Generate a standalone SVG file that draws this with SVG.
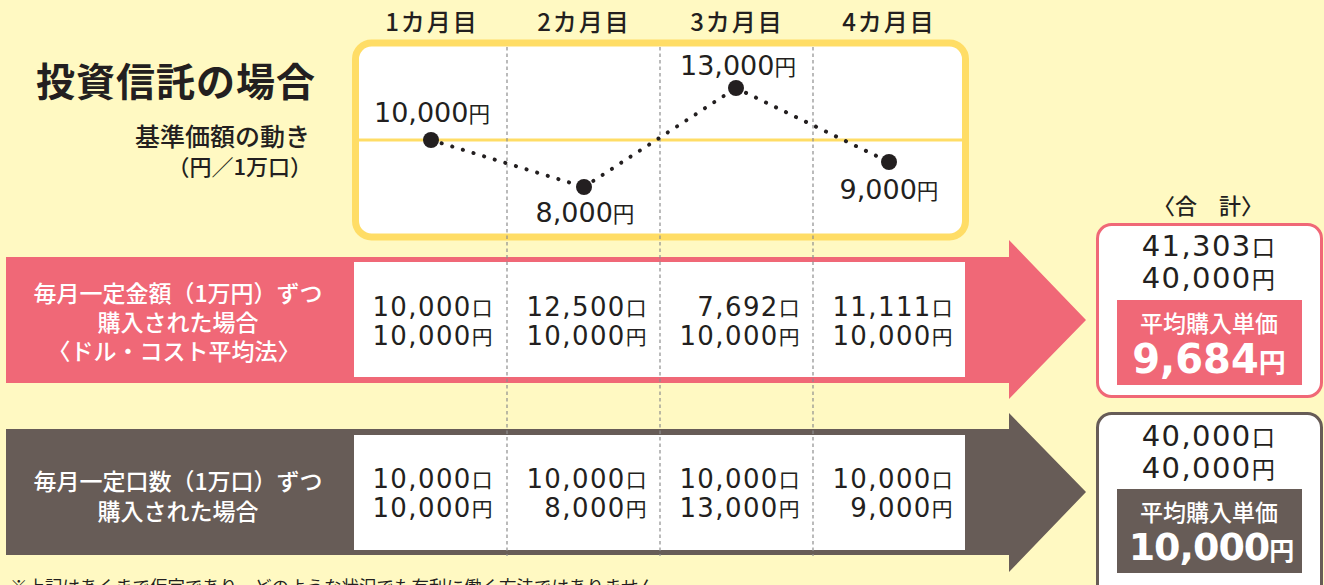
<svg xmlns="http://www.w3.org/2000/svg" width="1324" height="585" viewBox="0 0 1324 585">
<style>
.jp{font-family:"Noto Sans CJK JP","Noto Sans",sans-serif;fill:#231F20}
.num{font-family:"DejaVu Sans","Noto Sans CJK JP",sans-serif;fill:#231F20}
.w{fill:#FFFFFF}
.hdr{font-size:24px;font-weight:500;letter-spacing:2px;text-anchor:middle}
.lbl{font-size:27px;text-anchor:middle}
.cell{font-size:26px;text-anchor:end;letter-spacing:1.4px}
.row{font-size:23px;font-weight:500;text-anchor:middle}
.tot{font-size:29px;text-anchor:middle;letter-spacing:1.4px}
.dash{stroke:#8E8E8E;stroke-width:1.2;stroke-dasharray:3.5 3}
.dot{fill:#231F20}
.yen{font-size:0.8em}
</style>
<rect x="0" y="0" width="1324" height="585" fill="#FFF9C2"/>

<!-- title -->
<g id="title">
<text class="jp" x="36" y="96" font-size="39" font-weight="bold" letter-spacing="1">投資信託の場合</text>
<text class="jp" x="310" y="146" font-size="25" font-weight="500" text-anchor="end">基準価額の動き</text>
<text class="jp" x="312" y="175" font-size="22" font-weight="500" text-anchor="end">（円／1万口）</text>
</g>

<!-- month headers -->
<g id="headers">
<text class="jp hdr" x="432" y="31">1カ月目</text>
<text class="jp hdr" x="584" y="31">2カ月目</text>
<text class="jp hdr" x="737" y="31">3カ月目</text>
<text class="jp hdr" x="889" y="31">4カ月目</text>
</g>

<!-- chart frame -->
<g id="chart">
<rect x="355.5" y="43" width="610" height="194" rx="16" fill="#FFFFFF" stroke="#FFDD66" stroke-width="7"/>
<line x1="359" y1="140" x2="962" y2="140" stroke="#FFDD66" stroke-width="3"/>
</g>

<!-- pink arrow row -->
<g id="row-dca">
<polygon points="6,257 1009,257 1009,240 1086,320 1009,399 1009,383 6,383" fill="#F06877"/>
<rect x="354" y="262" width="611" height="115" fill="#FFFFFF"/>
<text class="jp row w" x="178" y="302">毎月一定金額（1万円）ずつ</text>
<text class="jp row w" x="178" y="331">購入された場合</text>
<text class="jp row w" x="174" y="360">〈ドル・コスト平均法〉</text>
</g>

<!-- dark arrow row -->
<g id="row-fixed">
<polygon points="6,429 1009,429 1009,413 1086,492 1009,572 1009,555 6,555" fill="#675C57"/>
<rect x="354" y="435" width="611" height="115" fill="#FFFFFF"/>
<text class="jp row w" x="178" y="490">毎月一定口数（1万口）ずつ</text>
<text class="jp row w" x="178" y="520">購入された場合</text>
</g>

<!-- dashed column dividers -->
<g id="dividers">
<line class="dash" x1="507" y1="47" x2="507" y2="556"/>
<line class="dash" x1="660" y1="47" x2="660" y2="556"/>
<line class="dash" x1="813" y1="47" x2="813" y2="556"/>
</g>

<!-- connectors: dotted price line -->
<g id="connectors" fill="none" stroke="#231F20" stroke-width="4" stroke-linecap="round" stroke-dasharray="0.1 11">
<line x1="431" y1="140" x2="584" y2="187"/>
<line x1="584" y1="187" x2="736" y2="88"/>
<line x1="736" y1="88" x2="889" y2="162"/>
</g>

<!-- price points -->
<g id="p1"><circle class="dot" cx="431" cy="140" r="8"/><text class="num lbl" x="432" y="122">10,000<tspan class="yen">円</tspan></text></g>
<g id="p2"><circle class="dot" cx="584" cy="187" r="8"/><text class="num lbl" x="585" y="222">8,000<tspan class="yen">円</tspan></text></g>
<g id="p3"><circle class="dot" cx="736" cy="88" r="8"/><text class="num lbl" x="738" y="75">13,000<tspan class="yen">円</tspan></text></g>
<g id="p4"><circle class="dot" cx="889" cy="162" r="8"/><text class="num lbl" x="889" y="199">9,000<tspan class="yen">円</tspan></text></g>

<!-- table cells pink row -->
<g id="cells-dca">
<text class="num cell" x="494" y="316">10,000<tspan class="yen">口</tspan></text>
<text class="num cell" x="494" y="345">10,000<tspan class="yen">円</tspan></text>
<text class="num cell" x="648" y="316">12,500<tspan class="yen">口</tspan></text>
<text class="num cell" x="648" y="345">10,000<tspan class="yen">円</tspan></text>
<text class="num cell" x="801" y="316">7,692<tspan class="yen">口</tspan></text>
<text class="num cell" x="801" y="345">10,000<tspan class="yen">円</tspan></text>
<text class="num cell" x="954" y="316">11,111<tspan class="yen">口</tspan></text>
<text class="num cell" x="954" y="345">10,000<tspan class="yen">円</tspan></text>
</g>

<!-- table cells dark row -->
<g id="cells-fixed">
<text class="num cell" x="494" y="488">10,000<tspan class="yen">口</tspan></text>
<text class="num cell" x="494" y="517">10,000<tspan class="yen">円</tspan></text>
<text class="num cell" x="648" y="488">10,000<tspan class="yen">口</tspan></text>
<text class="num cell" x="648" y="517">8,000<tspan class="yen">円</tspan></text>
<text class="num cell" x="801" y="488">10,000<tspan class="yen">口</tspan></text>
<text class="num cell" x="801" y="517">13,000<tspan class="yen">円</tspan></text>
<text class="num cell" x="954" y="488">10,000<tspan class="yen">口</tspan></text>
<text class="num cell" x="954" y="517">9,000<tspan class="yen">円</tspan></text>
</g>

<!-- totals -->
<text class="jp" x="1208" y="214" font-size="22" font-weight="500" text-anchor="middle">〈合　計〉</text>
<g id="total-dca">
<rect x="1097.5" y="224.5" width="224" height="172" rx="14" fill="#FFFFFF" stroke="#F06877" stroke-width="3"/>
<text class="num tot" x="1209" y="256">41,303<tspan class="yen">口</tspan></text>
<text class="num tot" x="1209" y="288">40,000<tspan class="yen">円</tspan></text>
<rect x="1117" y="300" width="185" height="85" fill="#F06877"/>
<text class="jp w" x="1209" y="332" font-size="23" font-weight="500" text-anchor="middle">平均購入単価</text>
<text class="num w" x="1209" y="373" font-size="40" font-weight="bold" text-anchor="middle">9,684<tspan font-size="27">円</tspan></text>
</g>
<g id="total-fixed">
<rect x="1097.5" y="413.5" width="224" height="190" rx="14" fill="#FFFFFF" stroke="#675C57" stroke-width="3"/>
<text class="num tot" x="1209" y="446">40,000<tspan class="yen">口</tspan></text>
<text class="num tot" x="1209" y="478">40,000<tspan class="yen">円</tspan></text>
<rect x="1117" y="489" width="185" height="84" fill="#675C57"/>
<text class="jp w" x="1209" y="521" font-size="23" font-weight="500" text-anchor="middle">平均購入単価</text>
<text class="num w" x="1211" y="560" font-size="38" font-weight="bold" text-anchor="middle" letter-spacing="-1">10,000<tspan font-size="25">円</tspan></text>
</g>

<!-- footnote (cut off at bottom) -->
<text class="jp" x="10" y="593" font-size="17.5">※上記はあくまで仮定であり、どのような状況でも有利に働く方法ではありません。</text>
</svg>
